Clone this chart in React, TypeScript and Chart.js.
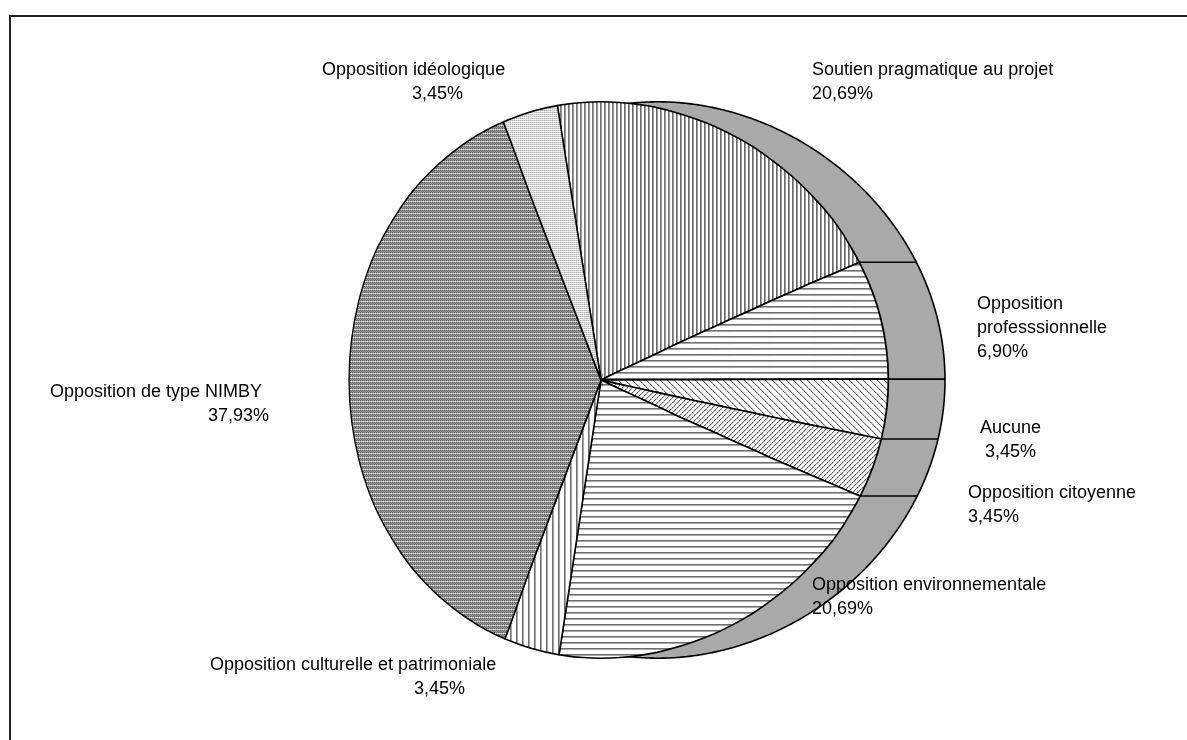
import React, { useEffect, useRef } from "react";
import { Chart, registerables } from "chart.js";

Chart.register(...registerables);

// ---------- DATA ----------
const categories = [
  "Soutien pragmatique au projet",
  "Opposition professsionnelle",
  "Aucune",
  "Opposition citoyenne",
  "Opposition environnementale",
  "Opposition culturelle et patrimoniale",
  "Opposition de type NIMBY",
  "Opposition idéologique",
];
const values = [20.69, 6.9, 3.45, 3.45, 20.69, 3.45, 37.93, 3.45];
const valueLabels = values.map((v) => v.toFixed(2).replace(".", ",") + "%");

// ---------- LAYOUT (label placement, not data) ----------
// x1: left of the category line(s), x2: left of the value line, y: centre of first line
const labelLayout = [
  { x1: 812, x2: 812, y: 70, split: false },
  { x1: 977, x2: 977, y: 304, split: true },
  { x1: 980, x2: 985, y: 428, split: false },
  { x1: 968, x2: 968, y: 493, split: false },
  { x1: 812, x2: 812, y: 585, split: false },
  { x1: 210, x2: 414, y: 665, split: false },
  { x1: 50, x2: 208, y: 392, split: false },
  { x1: 322, x2: 412, y: 70, split: false },
];

const FONT = '18px "Liberation Sans", Arial, sans-serif';
const LINE_H = 24;
const SIDE_DX = 57;
const HALF_W_LEFT = 252; // visual half-width of the far (left) side
const HALF_W_RIGHT = 287; // visual half-width of the near (right) side

// horizontal perspective mapping of the pie's top face
function makeMap(R: number) {
  const L = HALF_W_LEFT;
  const Rr = HALF_W_RIGHT;
  const u = (L - Rr) / (L + Rr);
  const a = (L / R) * (1 - u);
  const b = u / R;
  return (x: number) => (a * x) / (1 + b * x);
}

function tile(w: number, h: number, draw: (g: CanvasRenderingContext2D) => void) {
  const c = document.createElement("canvas");
  c.width = w;
  c.height = h;
  const g = c.getContext("2d")!;
  g.fillStyle = "#ffffff";
  g.fillRect(0, 0, w, h);
  draw(g);
  return c;
}

function makePatterns(ctx: CanvasRenderingContext2D) {
  const px = (g: CanvasRenderingContext2D, x: number, y: number, col: string) => {
    g.fillStyle = col;
    g.fillRect(x, y, 1, 1);
  };
  const vertDense = tile(4, 4, (g) => {
    for (let y = 0; y < 4; y++) {
      px(g, 0, y, "#6a6a6a");
      px(g, 1, y, "#9a9a9a");
    }
  });
  const horiz = tile(6, 6, (g) => {
    for (let x = 0; x < 6; x++) {
      px(g, x, 0, "#6e6e6e");
      px(g, x, 1, "#a8a8a8");
    }
  });
  const vert = tile(6, 6, (g) => {
    for (let y = 0; y < 6; y++) {
      px(g, 0, y, "#6e6e6e");
      px(g, 1, y, "#a8a8a8");
    }
  });
  const diagDown = tile(7, 7, (g) => {
    for (let i = 0; i < 7; i++) {
      px(g, i, i, i % 2 ? "#8a8a8a" : "#5a5a5a");
      px(g, (i + 1) % 7, i, "#c8c8c8");
    }
  });
  const diagUp = tile(5, 5, (g) => {
    for (let i = 0; i < 5; i++) {
      px(g, 4 - i, i, i % 2 ? "#8a8a8a" : "#5a5a5a");
      px(g, (5 - i) % 5, i, "#c8c8c8");
    }
  });
  const darkDots = tile(4, 4, (g) => {
    const m = [
      ["#5e5e5e", "#9a9a9a", "#5e5e5e", "#9a9a9a"],
      ["#b8b8b8", "#e6e6e6", "#b8b8b8", "#e6e6e6"],
      ["#5e5e5e", "#9a9a9a", "#5e5e5e", "#9a9a9a"],
      ["#9a9a9a", "#7a7a7a", "#9a9a9a", "#7a7a7a"],
    ];
    for (let y = 0; y < 4; y++) for (let x = 0; x < 4; x++) px(g, x, y, m[y][x]);
  });
  const lightGrid = tile(4, 4, (g) => {
    const m = [
      ["#b0b0b0", "#d8d8d8", "#b0b0b0", "#d8d8d8"],
      ["#e8e8e8", "#ffffff", "#e8e8e8", "#ffffff"],
      ["#b0b0b0", "#d8d8d8", "#b0b0b0", "#d8d8d8"],
      ["#e8e8e8", "#f4f4f4", "#e8e8e8", "#f4f4f4"],
    ];
    for (let y = 0; y < 4; y++) for (let x = 0; x < 4; x++) px(g, x, y, m[y][x]);
  });
  const p = (c: HTMLCanvasElement) => ctx.createPattern(c, "repeat")!;
  return [
    p(vertDense),
    p(horiz),
    p(diagDown),
    p(diagUp),
    p(horiz),
    p(vert),
    p(darkDots),
    p(lightGrid),
  ];
}

function makePlugins(patterns: CanvasPattern[]) {
  // gray side of the tilted pie, drawn behind the top face
  const sidePlugin = {
    id: "pieSide",
    beforeDatasetsDraw(chart: any) {
      const arcs = chart.getDatasetMeta(0).data;
      if (!arcs.length) return;
      const { x, y, outerRadius: R } = arcs[0].getProps(["x", "y", "outerRadius"], true);
      const f = makeMap(R);
      const ctx = chart.ctx as CanvasRenderingContext2D;
      ctx.save();
      ctx.beginPath();
      for (let i = 0; i <= 720; i++) {
        const t = (i / 720) * Math.PI * 2;
        const px = x + SIDE_DX + f(R * Math.cos(t));
        const py = y + R * Math.sin(t);
        if (i === 0) ctx.moveTo(px, py);
        else ctx.lineTo(px, py);
      }
      ctx.closePath();
      ctx.fillStyle = "#a9a9a9";
      ctx.fill();
      ctx.lineWidth = 1.6;
      ctx.strokeStyle = "#000";
      ctx.stroke();
      arcs.forEach((a: any) => {
        const { startAngle } = a.getProps(["startAngle"], true);
        const c = Math.cos(startAngle);
        if (c < 0) return;
        const px = x + f(R * c);
        const py = y + R * Math.sin(startAngle);
        ctx.beginPath();
        ctx.moveTo(px, py);
        ctx.lineTo(px + SIDE_DX, py);
        ctx.stroke();
      });
      ctx.restore();
    },
  };

  // draw the top face in vertical strips, piecewise-linear perspective squeeze
  const faceScalePlugin = {
    id: "faceScale",
    beforeDatasetDraw(chart: any, args: any) {
      const meta = args.meta;
      if (!meta.data.length) return;
      const cx = meta.data[0].x;
      const R = meta.data[0].outerRadius;
      const f = makeMap(R);
      const ctx = chart.ctx as CanvasRenderingContext2D;
      const N = 30;
      const knots: [number, number][] = [];
      for (let k = 0; k <= N; k++) {
        const xs = -R - 6 + (k * (2 * R + 12)) / N;
        knots.push([xs, Math.round(cx + f(xs)) - cx]);
      }
      for (let k = 0; k < N; k++) {
        const [xs0, xd0] = knots[k];
        const [xs1, xd1] = knots[k + 1];
        const s = (xd1 - xd0) / (xs1 - xs0);
        const c0 = k === 0 ? -cx : xd0;
        const c1 = k === N - 1 ? chart.width - cx : xd1;
        ctx.save();
        ctx.beginPath();
        ctx.rect(cx + c0, 0, c1 - c0, chart.height);
        ctx.clip();
        ctx.translate(cx + xd0, 0);
        ctx.scale(s, 1);
        ctx.translate(-(cx + xs0), 0);
        const m = new DOMMatrix()
          .translate(cx + xs0, 0)
          .scale(1 / s, 1)
          .translate(-(cx + xd0), 0);
        patterns.forEach((p) => p.setTransform(m));
        meta.controller.draw();
        ctx.restore();
      }
      patterns.forEach((p) => p.setTransform(new DOMMatrix()));
      return false;
    },
  };

  const labelPlugin = {
    id: "pieLabels",
    afterDatasetsDraw(chart: any) {
      const ctx = chart.ctx as CanvasRenderingContext2D;
      ctx.save();
      ctx.font = FONT;
      ctx.fillStyle = "#000";
      ctx.textBaseline = "middle";
      ctx.textAlign = "left";
      categories.forEach((cat, i) => {
        const L = labelLayout[i];
        const catLines = L.split ? cat.split(" ") : [cat];
        catLines.forEach((t, k) => ctx.fillText(t, L.x1, L.y + k * LINE_H));
        ctx.fillText(valueLabels[i], L.x2, L.y + catLines.length * LINE_H);
      });
      ctx.restore();
    },
  };
  return [sidePlugin, faceScalePlugin, labelPlugin];
}

export default function App() {
  const ref = useRef<HTMLCanvasElement>(null);
  useEffect(() => {
    const canvas = ref.current!;
    const ctx = canvas.getContext("2d")!;
    const patterns = makePatterns(ctx);
    const chart = new Chart(canvas, {
      type: "pie",
      data: {
        labels: categories,
        datasets: [
          {
            data: values,
            backgroundColor: patterns as any,
            borderColor: "#000",
            borderWidth: 1.6,
            borderJoinStyle: "miter",
          },
        ],
      },
      options: {
        responsive: false,
        animation: false,
        rotation: -9.5,
        layout: { padding: { left: 322, right: 307, top: 101, bottom: 81 } },
        plugins: {
          legend: { display: false },
          tooltip: { enabled: false },
        },
      },
      plugins: makePlugins(patterns) as any,
    });
    return () => chart.destroy();
  }, []);

  return (
    <div style={{ position: "fixed", left: 0, top: 0, width: 1187, height: 740, background: "#fff", overflow: "hidden" }}>
      <div
        style={{
          position: "absolute",
          left: 9,
          top: 15,
          width: 1200,
          height: 800,
          borderLeft: "2px solid #222",
          borderTop: "2px solid #222",
        }}
      />
      <canvas ref={ref} width={1187} height={740} style={{ position: "absolute", left: 0, top: 0 }} />
    </div>
  );
}
